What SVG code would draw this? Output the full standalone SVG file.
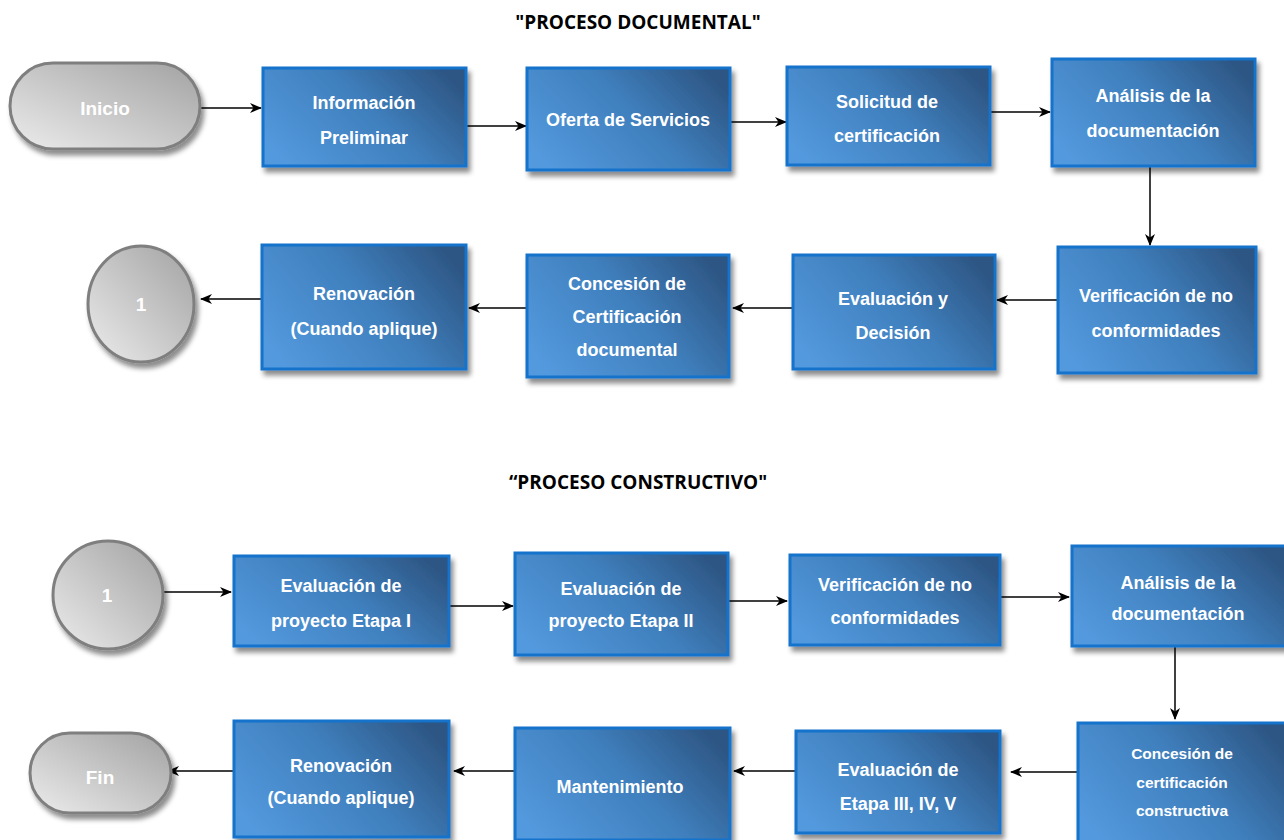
<svg xmlns="http://www.w3.org/2000/svg" width="1284" height="840" viewBox="0 0 1284 840">
<defs>
<linearGradient id="gb" x1="0" y1="0.75" x2="1" y2="0.25">
<stop offset="0" stop-color="#5399dd"/>
<stop offset="0.55" stop-color="#3f7fbd"/>
<stop offset="1" stop-color="#2d5684"/>
</linearGradient>
<linearGradient id="gg" x1="0" y1="1" x2="1" y2="0">
<stop offset="0" stop-color="#ececec"/>
<stop offset="1" stop-color="#a2a2a2"/>
</linearGradient>
<filter id="sh" x="-10%" y="-10%" width="130%" height="140%">
<feDropShadow dx="3" dy="5" stdDeviation="2.5" flood-color="#000" flood-opacity="0.45"/>
</filter>
<marker id="ah" viewBox="0 0 12 10" refX="11" refY="5" markerWidth="12" markerHeight="10" markerUnits="userSpaceOnUse" orient="auto">
<path d="M0,0 L12,5 L0,10 L3.5,5 z" fill="#000"/>
</marker>
<style>
.box{fill:url(#gb);stroke:#1273cc;stroke-width:3;filter:url(#sh)}
.term{fill:url(#gg);stroke:#7f7f7f;stroke-width:3;filter:url(#sh)}
.t{font-family:"Liberation Sans",Arial,sans-serif;font-weight:bold;font-size:18px;fill:#fff;text-anchor:middle}
.ts{font-size:15.5px}
.tl{font-size:19px}
.title{font-family:"Open Sans","Liberation Sans",sans-serif;font-weight:bold;font-size:19px;fill:#000;text-anchor:middle}
.c{stroke:#000;stroke-width:1.5;fill:none;marker-end:url(#ah)}
</style>
</defs>

<text class="title" x="638" y="29">"PROCESO DOCUMENTAL"</text>
<text class="title" x="638" y="489">“PROCESO CONSTRUCTIVO"</text>

<g id="connectors">
<line class="c" x1="201" y1="108" x2="261" y2="108"/>
<line class="c" x1="467" y1="126" x2="526" y2="126"/>
<line class="c" x1="731" y1="122" x2="786" y2="122"/>
<line class="c" x1="991" y1="112" x2="1050" y2="112"/>
<line class="c" x1="1150" y1="167" x2="1150" y2="245"/>
<line class="c" x1="1057" y1="300" x2="997" y2="300"/>
<line class="c" x1="792" y1="308" x2="733" y2="308"/>
<line class="c" x1="526" y1="308" x2="469" y2="308"/>
<line class="c" x1="261" y1="299" x2="201" y2="299"/>

<line class="c" x1="164" y1="592" x2="231" y2="592"/>
<line class="c" x1="450" y1="606" x2="513" y2="606"/>
<line class="c" x1="729" y1="601" x2="787" y2="601"/>
<line class="c" x1="1001" y1="597" x2="1069" y2="597"/>
<line class="c" x1="1175" y1="647" x2="1175" y2="719"/>
<line class="c" x1="1077" y1="772" x2="1011" y2="772"/>
<line class="c" x1="795" y1="771" x2="734" y2="771"/>
<line class="c" x1="514" y1="771" x2="454" y2="771"/>
<line class="c" x1="233" y1="771" x2="168" y2="771"/>
</g>

<g id="inicio">
<rect class="term" x="10" y="63" width="190" height="86" rx="43"/>
<text class="t tl" x="105" y="115">Inicio</text>
</g>
<g id="info">
<rect class="box" x="263" y="68" width="203" height="98"/>
<text class="t" x="364" y="109">Información</text>
<text class="t" x="364" y="144">Preliminar</text>
</g>
<g id="oferta">
<rect class="box" x="527" y="68" width="203" height="102"/>
<text class="t" x="628" y="126">Oferta de Servicios</text>
</g>
<g id="solicitud">
<rect class="box" x="787" y="67" width="203" height="98"/>
<text class="t" x="887" y="108">Solicitud de</text>
<text class="t" x="887" y="142">certificación</text>
</g>
<g id="analisis1">
<rect class="box" x="1052" y="59" width="203" height="107"/>
<text class="t" x="1153" y="102">Análisis de la</text>
<text class="t" x="1153" y="137">documentación</text>
</g>
<g id="verif1">
<rect class="box" x="1058" y="247" width="198" height="126"/>
<text class="t" x="1156" y="302">Verificación de no</text>
<text class="t" x="1156" y="337">conformidades</text>
</g>
<g id="evaldec">
<rect class="box" x="793" y="255" width="202" height="114"/>
<text class="t" x="893" y="305">Evaluación y</text>
<text class="t" x="893" y="339">Decisión</text>
</g>
<g id="concesion1">
<rect class="box" x="527" y="255" width="202" height="122"/>
<text class="t" x="627" y="290">Concesión de</text>
<text class="t" x="627" y="323">Certificación</text>
<text class="t" x="627" y="356">documental</text>
</g>
<g id="renov1">
<rect class="box" x="262" y="245" width="204" height="124"/>
<text class="t" x="364" y="300">Renovación</text>
<text class="t" x="364" y="335">(Cuando aplique)</text>
</g>
<g id="con1a">
<ellipse class="term" cx="141" cy="304" rx="53" ry="58"/>
<text class="t tl" x="141" y="311">1</text>
</g>

<g id="con1b">
<ellipse class="term" cx="108" cy="595" rx="55" ry="54"/>
<text class="t tl" x="107" y="602">1</text>
</g>
<g id="evalI">
<rect class="box" x="234" y="556" width="215" height="90"/>
<text class="t" x="341" y="592">Evaluación de</text>
<text class="t" x="341" y="627">proyecto Etapa I</text>
</g>
<g id="evalII">
<rect class="box" x="515" y="553" width="213" height="102"/>
<text class="t" x="621" y="595">Evaluación de</text>
<text class="t" x="621" y="627">proyecto Etapa II</text>
</g>
<g id="verif2">
<rect class="box" x="790" y="555" width="210" height="90"/>
<text class="t" x="895" y="591">Verificación de no</text>
<text class="t" x="895" y="624">conformidades</text>
</g>
<g id="analisis2">
<rect class="box" x="1072" y="546" width="214" height="100"/>
<text class="t" x="1178" y="589">Análisis de la</text>
<text class="t" x="1178" y="620">documentación</text>
</g>
<g id="concesion2">
<rect class="box" x="1078" y="723" width="210" height="122"/>
<text class="t ts" x="1182" y="759">Concesión de</text>
<text class="t ts" x="1182" y="788">certificación</text>
<text class="t ts" x="1182" y="816">constructiva</text>
</g>
<g id="evalIII">
<rect class="box" x="796" y="731" width="204" height="102"/>
<text class="t" x="898" y="776">Evaluación de</text>
<text class="t" x="898" y="810">Etapa III, IV, V</text>
</g>
<g id="mant">
<rect class="box" x="515" y="728" width="215" height="112"/>
<text class="t" x="620" y="793">Mantenimiento</text>
</g>
<g id="renov2">
<rect class="box" x="234" y="721" width="215" height="116"/>
<text class="t" x="341" y="772">Renovación</text>
<text class="t" x="341" y="804">(Cuando aplique)</text>
</g>
<g id="fin">
<rect class="term" x="30" y="733" width="141" height="80" rx="40"/>
<text class="t tl" x="100" y="784">Fin</text>
</g>
</svg>
